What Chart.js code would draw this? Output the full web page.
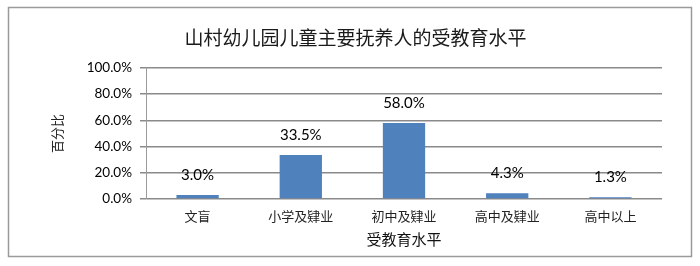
<!DOCTYPE html>
<html>
<head>
<meta charset="utf-8">
<script src="https://cdn.jsdelivr.net/npm/chart.js@4"></script>
<style>
html,body{margin:0;padding:0;background:#fff;}
canvas{display:block;}
</style>
</head>
<body>
<canvas id="c" width="700" height="266"></canvas>
<script>
const chartTitle = "山村幼儿园儿童主要抚养人的受教育水平";
const categories = ["文盲", "小学及肄业", "初中及肄业", "高中及肄业", "高中以上"];
const percentValues = [3.0, 33.5, 58.0, 4.3, 1.3];
const yTickValues = [0, 20, 40, 60, 80, 100];
const xAxisTitle = "受教育水平";
const yAxisTitle = "百分比";

const cjk = '"Noto Sans CJK SC", sans-serif';
const latin = 'Lato, "Open Sans", sans-serif';

const frame = {
  id: 'frame',
  beforeDraw(chart) {
    const ctx = chart.ctx;
    ctx.save();
    ctx.fillStyle = '#fff';
    ctx.fillRect(0, 0, chart.width, chart.height);
    ctx.strokeStyle = '#9a9a9a';
    ctx.lineWidth = 1.5;
    ctx.strokeRect(8.5, 7.5, 683, 249);
    ctx.restore();
  }
};

const dataLabels = {
  id: 'dataLabels',
  afterDatasetsDraw(chart) {
    const ctx = chart.ctx;
    const meta = chart.getDatasetMeta(0);
    ctx.save();
    ctx.font = '15px ' + latin;
    ctx.fillStyle = '#000';
    ctx.textAlign = 'center';
    ctx.textBaseline = 'middle';
    meta.data.forEach((bar, i) => {
      const v = chart.data.datasets[0].data[i];
      ctx.fillText(v.toFixed(1) + '%', bar.x, bar.y - 20);
    });
    ctx.restore();
  }
};

new Chart(document.getElementById('c'), {
  type: 'bar',
  data: {
    labels: categories,
    datasets: [{
      data: percentValues,
      backgroundColor: '#4F81BD',
      borderWidth: 0,
      categoryPercentage: 1.0,
      barPercentage: 0.41
    }]
  },
  options: {
    responsive: false,
    animation: false,
    devicePixelRatio: 1,
    layout: { padding: { left: 49, right: 38, top: 0, bottom: 18 } },
    plugins: {
      legend: { display: false },
      tooltip: { enabled: false },
      title: {
        display: true,
        text: chartTitle,
        color: '#1a1a1a',
        font: { family: cjk, size: 19, weight: 'normal', lineHeight: 1.2 },
        padding: { top: 26, bottom: 19 }
      }
    },
    scales: {
      x: {
        grid: { display: false, drawTicks: false },
        border: { display: false },
        ticks: { color: '#222', font: { family: cjk, size: 13 }, padding: 9, maxRotation: 0 },
        title: { display: true, text: xAxisTitle, color: '#111', font: { family: cjk, size: 15 }, padding: 0 },
        afterFit(s) { s.height = 49; }
      },
      y: {
        min: 0, max: 100,
        afterBuildTicks(s) { s.ticks = yTickValues.map(v => ({ value: v })); },
        grid: { color: '#8a8a8a', lineWidth: 1.5, tickLength: 6, drawTicks: true },
        border: { display: true, color: '#9a9a9a', width: 1 },
        ticks: {
          color: '#000',
          font: { family: latin, size: 13.5 },
          padding: 8,
          callback: v => v.toFixed(1) + '%'
        },
        title: { display: true, text: yAxisTitle, color: '#222', font: { family: cjk, size: 13 }, padding: 0 },
        afterFit(s) { s.width = 97; }
      }
    }
  },
  plugins: [frame, dataLabels]
});
</script>
</body>
</html>
